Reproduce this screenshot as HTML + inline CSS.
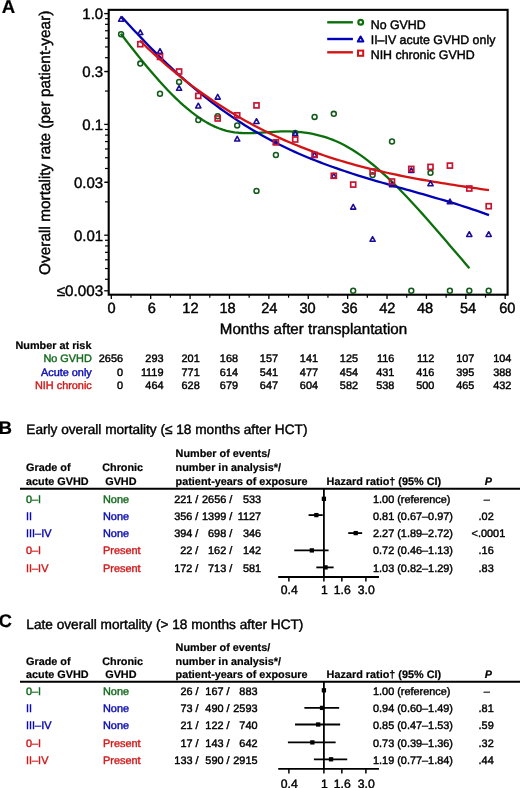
<!DOCTYPE html>
<html><head><meta charset="utf-8"><style>
html,body{margin:0;padding:0;background:#fff;}
body{width:520px;height:788px;overflow:hidden;}
svg{display:block;will-change:transform;font-family:"Liberation Sans",sans-serif;text-rendering:geometricPrecision;-webkit-font-smoothing:antialiased;}
</style></head><body>
<svg width="520" height="788" viewBox="0 0 520 788">
<rect width="520" height="788" fill="#fff"/>
<text x="1.7" y="12.9" font-size="18.6" font-weight="bold" stroke="#000" stroke-width="0.2">A</text>
<rect x="108.7" y="9.85" width="398.90000000000003" height="284.84999999999997" fill="none" stroke="#000" stroke-width="2.1"/>
<line x1="105.0" y1="279.29" x2="108.7" y2="279.29" stroke="#000" stroke-width="1.2"/>
<line x1="105.0" y1="268.55" x2="108.7" y2="268.55" stroke="#000" stroke-width="1.2"/>
<line x1="105.0" y1="259.78" x2="108.7" y2="259.78" stroke="#000" stroke-width="1.2"/>
<line x1="105.0" y1="252.36" x2="108.7" y2="252.36" stroke="#000" stroke-width="1.2"/>
<line x1="105.0" y1="245.94" x2="108.7" y2="245.94" stroke="#000" stroke-width="1.2"/>
<line x1="105.0" y1="240.27" x2="108.7" y2="240.27" stroke="#000" stroke-width="1.2"/>
<line x1="105.0" y1="201.85" x2="108.7" y2="201.85" stroke="#000" stroke-width="1.2"/>
<line x1="105.0" y1="182.33" x2="108.7" y2="182.33" stroke="#000" stroke-width="1.2"/>
<line x1="105.0" y1="168.49" x2="108.7" y2="168.49" stroke="#000" stroke-width="1.2"/>
<line x1="105.0" y1="157.75" x2="108.7" y2="157.75" stroke="#000" stroke-width="1.2"/>
<line x1="105.0" y1="148.98" x2="108.7" y2="148.98" stroke="#000" stroke-width="1.2"/>
<line x1="105.0" y1="141.56" x2="108.7" y2="141.56" stroke="#000" stroke-width="1.2"/>
<line x1="105.0" y1="135.14" x2="108.7" y2="135.14" stroke="#000" stroke-width="1.2"/>
<line x1="105.0" y1="129.47" x2="108.7" y2="129.47" stroke="#000" stroke-width="1.2"/>
<line x1="105.0" y1="91.05" x2="108.7" y2="91.05" stroke="#000" stroke-width="1.2"/>
<line x1="105.0" y1="71.53" x2="108.7" y2="71.53" stroke="#000" stroke-width="1.2"/>
<line x1="105.0" y1="57.69" x2="108.7" y2="57.69" stroke="#000" stroke-width="1.2"/>
<line x1="105.0" y1="46.95" x2="108.7" y2="46.95" stroke="#000" stroke-width="1.2"/>
<line x1="105.0" y1="38.18" x2="108.7" y2="38.18" stroke="#000" stroke-width="1.2"/>
<line x1="105.0" y1="30.76" x2="108.7" y2="30.76" stroke="#000" stroke-width="1.2"/>
<line x1="105.0" y1="24.34" x2="108.7" y2="24.34" stroke="#000" stroke-width="1.2"/>
<line x1="105.0" y1="18.67" x2="108.7" y2="18.67" stroke="#000" stroke-width="1.2"/>
<line x1="104.2" y1="13.6" x2="108.7" y2="13.6" stroke="#000" stroke-width="1.3"/>
<text x="103.2" y="18.9" font-size="15.0" text-anchor="end" stroke="#000" stroke-width="0.42">1.0</text>
<line x1="104.2" y1="71.53" x2="108.7" y2="71.53" stroke="#000" stroke-width="1.3"/>
<text x="103.2" y="76.83" font-size="15.0" text-anchor="end" stroke="#000" stroke-width="0.42">0.3</text>
<line x1="104.2" y1="124.4" x2="108.7" y2="124.4" stroke="#000" stroke-width="1.3"/>
<text x="103.2" y="129.7" font-size="15.0" text-anchor="end" stroke="#000" stroke-width="0.42">0.1</text>
<line x1="104.2" y1="182.33" x2="108.7" y2="182.33" stroke="#000" stroke-width="1.3"/>
<text x="103.2" y="187.63" font-size="15.0" text-anchor="end" stroke="#000" stroke-width="0.42">0.03</text>
<line x1="104.2" y1="235.2" x2="108.7" y2="235.2" stroke="#000" stroke-width="1.3"/>
<text x="103.2" y="240.5" font-size="15.0" text-anchor="end" stroke="#000" stroke-width="0.42">0.01</text>
<line x1="104.2" y1="290.8" x2="108.7" y2="290.8" stroke="#000" stroke-width="1.3"/>
<text x="103.2" y="296.0" font-size="15.0" text-anchor="end" stroke="#000" stroke-width="0.42" textLength="46.5" lengthAdjust="spacingAndGlyphs">≤0.003</text>
<line x1="111.3" y1="294.7" x2="111.3" y2="298.9" stroke="#000" stroke-width="1.3"/>
<text x="111.45" y="313.4" font-size="14.6" text-anchor="middle" stroke="#000" stroke-width="0.42">0</text>
<line x1="131.0" y1="294.7" x2="131.0" y2="297.7" stroke="#000" stroke-width="1.2"/>
<line x1="150.69" y1="294.7" x2="150.69" y2="298.9" stroke="#000" stroke-width="1.3"/>
<text x="151.74" y="313.4" font-size="14.6" text-anchor="middle" stroke="#000" stroke-width="0.42">6</text>
<line x1="170.38" y1="294.7" x2="170.38" y2="297.7" stroke="#000" stroke-width="1.2"/>
<line x1="190.08" y1="294.7" x2="190.08" y2="298.9" stroke="#000" stroke-width="1.3"/>
<text x="190.43" y="313.4" font-size="14.6" text-anchor="middle" stroke="#000" stroke-width="0.42">12</text>
<line x1="209.78" y1="294.7" x2="209.78" y2="297.7" stroke="#000" stroke-width="1.2"/>
<line x1="229.47" y1="294.7" x2="229.47" y2="298.9" stroke="#000" stroke-width="1.3"/>
<text x="227.52" y="313.4" font-size="14.6" text-anchor="middle" stroke="#000" stroke-width="0.42">18</text>
<line x1="249.17" y1="294.7" x2="249.17" y2="297.7" stroke="#000" stroke-width="1.2"/>
<line x1="268.86" y1="294.7" x2="268.86" y2="298.9" stroke="#000" stroke-width="1.3"/>
<text x="269.31" y="313.4" font-size="14.6" text-anchor="middle" stroke="#000" stroke-width="0.42">24</text>
<line x1="288.56" y1="294.7" x2="288.56" y2="297.7" stroke="#000" stroke-width="1.2"/>
<line x1="308.25" y1="294.7" x2="308.25" y2="298.9" stroke="#000" stroke-width="1.3"/>
<text x="307.6" y="313.4" font-size="14.6" text-anchor="middle" stroke="#000" stroke-width="0.42">30</text>
<line x1="327.94" y1="294.7" x2="327.94" y2="297.7" stroke="#000" stroke-width="1.2"/>
<line x1="347.64" y1="294.7" x2="347.64" y2="298.9" stroke="#000" stroke-width="1.3"/>
<text x="349.59" y="313.4" font-size="14.6" text-anchor="middle" stroke="#000" stroke-width="0.42">36</text>
<line x1="367.34" y1="294.7" x2="367.34" y2="297.7" stroke="#000" stroke-width="1.2"/>
<line x1="387.03" y1="294.7" x2="387.03" y2="298.9" stroke="#000" stroke-width="1.3"/>
<text x="387.38" y="313.4" font-size="14.6" text-anchor="middle" stroke="#000" stroke-width="0.42">42</text>
<line x1="406.73" y1="294.7" x2="406.73" y2="297.7" stroke="#000" stroke-width="1.2"/>
<line x1="426.42" y1="294.7" x2="426.42" y2="298.9" stroke="#000" stroke-width="1.3"/>
<text x="425.07" y="313.4" font-size="14.6" text-anchor="middle" stroke="#000" stroke-width="0.42">48</text>
<line x1="446.12" y1="294.7" x2="446.12" y2="297.7" stroke="#000" stroke-width="1.2"/>
<line x1="465.81" y1="294.7" x2="465.81" y2="298.9" stroke="#000" stroke-width="1.3"/>
<text x="468.01" y="313.4" font-size="14.6" text-anchor="middle" stroke="#000" stroke-width="0.42">54</text>
<line x1="485.51" y1="294.7" x2="485.51" y2="297.7" stroke="#000" stroke-width="1.2"/>
<line x1="505.2" y1="294.7" x2="505.2" y2="298.9" stroke="#000" stroke-width="1.3"/>
<text x="507.3" y="313.4" font-size="14.6" text-anchor="middle" stroke="#000" stroke-width="0.42">60</text>
<text x="219.8" y="333.9" font-size="15.12" stroke="#000" stroke-width="0.42">Months after transplantation</text>
<text transform="translate(50.2,274.9) rotate(-90)" font-size="15.4" stroke="#000" stroke-width="0.42">Overall mortality rate (per patient-year)</text>
<path d="M120.80,33.71 L124.72,38.79 L128.63,43.83 L132.55,48.83 L136.47,53.77 L140.38,58.65 L144.30,63.45 L148.22,68.16 L152.13,72.79 L156.05,77.31 L159.97,81.72 L163.89,86.01 L167.80,90.18 L171.72,94.20 L175.64,98.07 L179.55,101.79 L183.47,105.34 L187.39,108.71 L191.30,111.90 L195.22,114.90 L199.14,117.69 L203.05,120.27 L206.97,122.63 L210.89,124.75 L214.80,126.64 L218.72,128.28 L222.64,129.66 L226.56,130.77 L230.47,131.64 L234.39,132.28 L238.31,132.73 L242.22,133.00 L246.14,133.13 L250.06,133.12 L253.97,133.02 L257.89,132.84 L261.81,132.60 L265.72,132.34 L269.64,132.07 L273.56,131.82 L277.47,131.61 L281.39,131.47 L285.31,131.42 L289.22,131.46 L293.14,131.59 L297.06,131.83 L300.98,132.18 L304.89,132.65 L308.81,133.23 L312.73,133.95 L316.64,134.80 L320.56,135.79 L324.48,136.92 L328.39,138.21 L332.31,139.66 L336.23,141.27 L340.14,143.05 L344.06,145.01 L347.98,147.15 L351.89,149.46 L355.81,151.95 L359.73,154.60 L363.64,157.41 L367.56,160.38 L371.48,163.48 L375.40,166.72 L379.31,170.09 L383.23,173.59 L387.15,177.20 L391.06,180.93 L394.98,184.75 L398.90,188.68 L402.81,192.69 L406.73,196.79 L410.65,200.96 L414.56,205.20 L418.48,209.51 L422.40,213.87 L426.31,218.28 L430.23,222.74 L434.15,227.23 L438.07,231.75 L441.98,236.29 L445.90,240.85 L449.82,245.41 L453.73,249.98 L457.65,254.55 L461.57,259.10 L465.48,263.63 L469.40,268.14" fill="none" stroke="#0b700b" stroke-width="2.3" stroke-linejoin="round"/>
<path d="M121.30,16.42 L125.43,20.97 L129.56,25.47 L133.69,29.92 L137.83,34.32 L141.96,38.66 L146.09,42.95 L150.22,47.18 L154.35,51.35 L158.48,55.45 L162.61,59.50 L166.75,63.47 L170.88,67.39 L175.01,71.23 L179.14,75.01 L183.27,78.72 L187.40,82.35 L191.53,85.91 L195.67,89.40 L199.80,92.81 L203.93,96.14 L208.06,99.40 L212.19,102.58 L216.32,105.68 L220.46,108.72 L224.59,111.67 L228.72,114.56 L232.85,117.38 L236.98,120.12 L241.11,122.80 L245.24,125.41 L249.38,127.96 L253.51,130.43 L257.64,132.85 L261.77,135.20 L265.90,137.48 L270.03,139.71 L274.16,141.88 L278.30,143.98 L282.43,146.03 L286.56,148.02 L290.69,149.96 L294.82,151.84 L298.95,153.68 L303.08,155.46 L307.22,157.20 L311.35,158.89 L315.48,160.54 L319.61,162.15 L323.74,163.71 L327.87,165.24 L332.00,166.74 L336.14,168.20 L340.27,169.62 L344.40,171.02 L348.53,172.39 L352.66,173.73 L356.79,175.04 L360.92,176.33 L365.06,177.61 L369.19,178.86 L373.32,180.09 L377.45,181.31 L381.58,182.52 L385.71,183.71 L389.84,184.89 L393.98,186.07 L398.11,187.24 L402.24,188.40 L406.37,189.56 L410.50,190.72 L414.63,191.89 L418.77,193.05 L422.90,194.22 L427.03,195.40 L431.16,196.58 L435.29,197.77 L439.42,198.98 L443.55,200.20 L447.69,201.44 L451.82,202.69 L455.95,203.97 L460.08,205.26 L464.21,206.58 L468.34,207.93 L472.47,209.30 L476.61,210.70 L480.74,212.13 L484.87,213.59 L489.00,215.09" fill="none" stroke="#0000b8" stroke-width="2.3" stroke-linejoin="round"/>
<path d="M139.80,40.46 L143.72,44.29 L147.65,48.05 L151.57,51.74 L155.49,55.35 L159.42,58.90 L163.34,62.38 L167.27,65.79 L171.19,69.13 L175.11,72.41 L179.04,75.62 L182.96,78.76 L186.88,81.84 L190.81,84.86 L194.73,87.82 L198.65,90.71 L202.58,93.54 L206.50,96.31 L210.42,99.02 L214.35,101.68 L218.27,104.27 L222.20,106.81 L226.12,109.30 L230.04,111.72 L233.97,114.10 L237.89,116.42 L241.81,118.68 L245.74,120.90 L249.66,123.06 L253.58,125.17 L257.51,127.23 L261.43,129.25 L265.36,131.21 L269.28,133.13 L273.20,135.00 L277.13,136.83 L281.05,138.61 L284.97,140.35 L288.90,142.05 L292.82,143.70 L296.74,145.31 L300.67,146.88 L304.59,148.41 L308.51,149.90 L312.44,151.35 L316.36,152.77 L320.29,154.15 L324.21,155.49 L328.13,156.80 L332.06,158.07 L335.98,159.31 L339.90,160.52 L343.83,161.69 L347.75,162.83 L351.67,163.95 L355.60,165.03 L359.52,166.09 L363.44,167.12 L367.37,168.12 L371.29,169.09 L375.22,170.04 L379.14,170.97 L383.06,171.87 L386.99,172.75 L390.91,173.60 L394.83,174.44 L398.76,175.25 L402.68,176.05 L406.60,176.82 L410.53,177.58 L414.45,178.32 L418.38,179.05 L422.30,179.75 L426.22,180.45 L430.15,181.13 L434.07,181.79 L437.99,182.45 L441.92,183.09 L445.84,183.72 L449.76,184.34 L453.69,184.96 L457.61,185.56 L461.53,186.16 L465.46,186.75 L469.38,187.33 L473.31,187.91 L477.23,188.48 L481.15,189.06 L485.08,189.62 L489.00,190.19" fill="none" stroke="#d41414" stroke-width="2.3" stroke-linejoin="round"/>
<circle cx="121.1" cy="34.2" r="2.45" fill="none" stroke="#125a1a" stroke-width="1.55"/>
<circle cx="140.3" cy="63.6" r="2.45" fill="none" stroke="#125a1a" stroke-width="1.55"/>
<circle cx="160.0" cy="93.7" r="2.45" fill="none" stroke="#125a1a" stroke-width="1.55"/>
<circle cx="179.1" cy="81.9" r="2.45" fill="none" stroke="#125a1a" stroke-width="1.55"/>
<circle cx="198.3" cy="120" r="2.45" fill="none" stroke="#125a1a" stroke-width="1.55"/>
<circle cx="217.7" cy="116.2" r="2.45" fill="none" stroke="#125a1a" stroke-width="1.55"/>
<circle cx="237.2" cy="125.4" r="2.45" fill="none" stroke="#125a1a" stroke-width="1.55"/>
<circle cx="256.5" cy="190.9" r="2.45" fill="none" stroke="#125a1a" stroke-width="1.55"/>
<circle cx="275.9" cy="155" r="2.45" fill="none" stroke="#125a1a" stroke-width="1.55"/>
<circle cx="295.2" cy="133.0" r="2.45" fill="none" stroke="#125a1a" stroke-width="1.55"/>
<circle cx="314.6" cy="116.9" r="2.45" fill="none" stroke="#125a1a" stroke-width="1.55"/>
<circle cx="333.8" cy="113.8" r="2.45" fill="none" stroke="#125a1a" stroke-width="1.55"/>
<circle cx="353.2" cy="290.8" r="2.45" fill="none" stroke="#125a1a" stroke-width="1.55"/>
<circle cx="372.6" cy="175.1" r="2.45" fill="none" stroke="#125a1a" stroke-width="1.55"/>
<circle cx="392.0" cy="141.5" r="2.45" fill="none" stroke="#125a1a" stroke-width="1.55"/>
<circle cx="411.3" cy="290.8" r="2.45" fill="none" stroke="#125a1a" stroke-width="1.55"/>
<circle cx="430.5" cy="172.8" r="2.45" fill="none" stroke="#125a1a" stroke-width="1.55"/>
<circle cx="449.9" cy="290.8" r="2.45" fill="none" stroke="#125a1a" stroke-width="1.55"/>
<circle cx="469.3" cy="290.8" r="2.45" fill="none" stroke="#125a1a" stroke-width="1.55"/>
<circle cx="488.7" cy="290.8" r="2.45" fill="none" stroke="#125a1a" stroke-width="1.55"/>
<path d="M121.10,16.63 L123.70,21.31 L118.50,21.31 Z" fill="none" stroke="#1a0c96" stroke-width="1.55" stroke-linejoin="round"/>
<path d="M140.30,29.83 L142.90,34.51 L137.70,34.51 Z" fill="none" stroke="#1a0c96" stroke-width="1.55" stroke-linejoin="round"/>
<path d="M160.00,48.63 L162.60,53.31 L157.40,53.31 Z" fill="none" stroke="#1a0c96" stroke-width="1.55" stroke-linejoin="round"/>
<path d="M179.10,85.63 L181.70,90.31 L176.50,90.31 Z" fill="none" stroke="#1a0c96" stroke-width="1.55" stroke-linejoin="round"/>
<path d="M198.30,103.23 L200.90,107.91 L195.70,107.91 Z" fill="none" stroke="#1a0c96" stroke-width="1.55" stroke-linejoin="round"/>
<path d="M217.70,94.43 L220.30,99.11 L215.10,99.11 Z" fill="none" stroke="#1a0c96" stroke-width="1.55" stroke-linejoin="round"/>
<path d="M237.20,136.33 L239.80,141.01 L234.60,141.01 Z" fill="none" stroke="#1a0c96" stroke-width="1.55" stroke-linejoin="round"/>
<path d="M256.50,118.73 L259.10,123.41 L253.90,123.41 Z" fill="none" stroke="#1a0c96" stroke-width="1.55" stroke-linejoin="round"/>
<path d="M275.90,139.83 L278.50,144.51 L273.30,144.51 Z" fill="none" stroke="#1a0c96" stroke-width="1.55" stroke-linejoin="round"/>
<path d="M295.20,131.13 L297.80,135.81 L292.60,135.81 Z" fill="none" stroke="#1a0c96" stroke-width="1.55" stroke-linejoin="round"/>
<path d="M314.60,152.43 L317.20,157.11 L312.00,157.11 Z" fill="none" stroke="#1a0c96" stroke-width="1.55" stroke-linejoin="round"/>
<path d="M333.80,173.33 L336.40,178.01 L331.20,178.01 Z" fill="none" stroke="#1a0c96" stroke-width="1.55" stroke-linejoin="round"/>
<path d="M353.20,204.43 L355.80,209.11 L350.60,209.11 Z" fill="none" stroke="#1a0c96" stroke-width="1.55" stroke-linejoin="round"/>
<path d="M372.60,236.63 L375.20,241.31 L370.00,241.31 Z" fill="none" stroke="#1a0c96" stroke-width="1.55" stroke-linejoin="round"/>
<path d="M392.00,182.13 L394.60,186.81 L389.40,186.81 Z" fill="none" stroke="#1a0c96" stroke-width="1.55" stroke-linejoin="round"/>
<path d="M411.30,167.83 L413.90,172.51 L408.70,172.51 Z" fill="none" stroke="#1a0c96" stroke-width="1.55" stroke-linejoin="round"/>
<path d="M430.50,181.03 L433.10,185.71 L427.90,185.71 Z" fill="none" stroke="#1a0c96" stroke-width="1.55" stroke-linejoin="round"/>
<path d="M449.90,199.03 L452.50,203.71 L447.30,203.71 Z" fill="none" stroke="#1a0c96" stroke-width="1.55" stroke-linejoin="round"/>
<path d="M469.30,231.73 L471.90,236.41 L466.70,236.41 Z" fill="none" stroke="#1a0c96" stroke-width="1.55" stroke-linejoin="round"/>
<path d="M488.70,231.73 L491.30,236.41 L486.10,236.41 Z" fill="none" stroke="#1a0c96" stroke-width="1.55" stroke-linejoin="round"/>
<rect x="137.80" y="41.70" width="5.00" height="5.00" fill="none" stroke="#c81432" stroke-width="1.7"/>
<rect x="157.50" y="54.40" width="5.00" height="5.00" fill="none" stroke="#c81432" stroke-width="1.7"/>
<rect x="176.60" y="69.00" width="5.00" height="5.00" fill="none" stroke="#c81432" stroke-width="1.7"/>
<rect x="195.80" y="93.40" width="5.00" height="5.00" fill="none" stroke="#c81432" stroke-width="1.7"/>
<rect x="215.20" y="116.00" width="5.00" height="5.00" fill="none" stroke="#c81432" stroke-width="1.7"/>
<rect x="234.70" y="112.80" width="5.00" height="5.00" fill="none" stroke="#c81432" stroke-width="1.7"/>
<rect x="254.00" y="102.90" width="5.00" height="5.00" fill="none" stroke="#c81432" stroke-width="1.7"/>
<rect x="273.40" y="139.80" width="5.00" height="5.00" fill="none" stroke="#c81432" stroke-width="1.7"/>
<rect x="292.70" y="137.00" width="5.00" height="5.00" fill="none" stroke="#c81432" stroke-width="1.7"/>
<rect x="312.10" y="152.40" width="5.00" height="5.00" fill="none" stroke="#c81432" stroke-width="1.7"/>
<rect x="331.30" y="173.30" width="5.00" height="5.00" fill="none" stroke="#c81432" stroke-width="1.7"/>
<rect x="350.70" y="182.10" width="5.00" height="5.00" fill="none" stroke="#c81432" stroke-width="1.7"/>
<rect x="370.10" y="169.00" width="5.00" height="5.00" fill="none" stroke="#c81432" stroke-width="1.7"/>
<rect x="389.50" y="179.00" width="5.00" height="5.00" fill="none" stroke="#c81432" stroke-width="1.7"/>
<rect x="408.80" y="166.40" width="5.00" height="5.00" fill="none" stroke="#c81432" stroke-width="1.7"/>
<rect x="428.00" y="164.40" width="5.00" height="5.00" fill="none" stroke="#c81432" stroke-width="1.7"/>
<rect x="447.40" y="163.10" width="5.00" height="5.00" fill="none" stroke="#c81432" stroke-width="1.7"/>
<rect x="466.80" y="186.00" width="5.00" height="5.00" fill="none" stroke="#c81432" stroke-width="1.7"/>
<rect x="486.20" y="203.70" width="5.00" height="5.00" fill="none" stroke="#c81432" stroke-width="1.7"/>
<line x1="327.2" y1="22.3" x2="352.9" y2="22.3" stroke="#0b700b" stroke-width="2.4"/>
<circle cx="360.7" cy="22.2" r="2.4" fill="none" stroke="#0b700b" stroke-width="2.2"/>
<line x1="327.2" y1="39.0" x2="352.9" y2="39.0" stroke="#0000b8" stroke-width="2.4"/>
<path d="M360.60,36.44 L363.40,41.48 L357.80,41.48 Z" fill="none" stroke="#0000b8" stroke-width="2.0" stroke-linejoin="round"/>
<line x1="327.2" y1="52.3" x2="352.9" y2="52.3" stroke="#d41414" stroke-width="2.4"/>
<rect x="358.00" y="50.60" width="5.20" height="5.20" fill="none" stroke="#d41414" stroke-width="2.0"/>
<text x="370.7" y="28.8" font-size="12.4" stroke="#000" stroke-width="0.42">No GVHD</text>
<text x="370.7" y="43.6" font-size="12.4" stroke="#000" stroke-width="0.42">II–IV acute GVHD only</text>
<text x="370.7" y="58.6" font-size="12.4" stroke="#000" stroke-width="0.42">NIH chronic GVHD</text>
<text x="15.5" y="348.8" font-size="10.85" font-weight="bold" stroke="#000" stroke-width="0.2">Number at risk</text>
<text x="91.8" y="362.4" font-size="10.9" text-anchor="end" fill="#146a1e" stroke="#146a1e" stroke-width="0.42">No GVHD</text>
<text x="91.8" y="375.6" font-size="10.9" text-anchor="end" fill="#0a0ab4" stroke="#0a0ab4" stroke-width="0.42">Acute only</text>
<text x="91.8" y="388.9" font-size="10.9" text-anchor="end" fill="#d21a1a" stroke="#d21a1a" stroke-width="0.42">NIH chronic</text>
<text x="123.0" y="362.4" font-size="10.9" text-anchor="end" stroke="#000" stroke-width="0.42">2656</text>
<text x="163.5" y="362.4" font-size="10.9" text-anchor="end" stroke="#000" stroke-width="0.42">293</text>
<text x="199.7" y="362.4" font-size="10.9" text-anchor="end" stroke="#000" stroke-width="0.42">201</text>
<text x="238.0" y="362.4" font-size="10.9" text-anchor="end" stroke="#000" stroke-width="0.42">168</text>
<text x="278.0" y="362.4" font-size="10.9" text-anchor="end" stroke="#000" stroke-width="0.42">157</text>
<text x="318.0" y="362.4" font-size="10.9" text-anchor="end" stroke="#000" stroke-width="0.42">141</text>
<text x="358.0" y="362.4" font-size="10.9" text-anchor="end" stroke="#000" stroke-width="0.42">125</text>
<text x="394.3" y="362.4" font-size="10.9" text-anchor="end" stroke="#000" stroke-width="0.42">116</text>
<text x="434.3" y="362.4" font-size="10.9" text-anchor="end" stroke="#000" stroke-width="0.42">112</text>
<text x="474.3" y="362.4" font-size="10.9" text-anchor="end" stroke="#000" stroke-width="0.42">107</text>
<text x="511.3" y="362.4" font-size="10.9" text-anchor="end" stroke="#000" stroke-width="0.42">104</text>
<text x="123.0" y="375.6" font-size="10.9" text-anchor="end" stroke="#000" stroke-width="0.42">0</text>
<text x="163.5" y="375.6" font-size="10.9" text-anchor="end" stroke="#000" stroke-width="0.42">1119</text>
<text x="199.7" y="375.6" font-size="10.9" text-anchor="end" stroke="#000" stroke-width="0.42">771</text>
<text x="238.0" y="375.6" font-size="10.9" text-anchor="end" stroke="#000" stroke-width="0.42">614</text>
<text x="278.0" y="375.6" font-size="10.9" text-anchor="end" stroke="#000" stroke-width="0.42">541</text>
<text x="318.0" y="375.6" font-size="10.9" text-anchor="end" stroke="#000" stroke-width="0.42">477</text>
<text x="358.0" y="375.6" font-size="10.9" text-anchor="end" stroke="#000" stroke-width="0.42">454</text>
<text x="394.3" y="375.6" font-size="10.9" text-anchor="end" stroke="#000" stroke-width="0.42">431</text>
<text x="434.3" y="375.6" font-size="10.9" text-anchor="end" stroke="#000" stroke-width="0.42">416</text>
<text x="474.3" y="375.6" font-size="10.9" text-anchor="end" stroke="#000" stroke-width="0.42">395</text>
<text x="511.3" y="375.6" font-size="10.9" text-anchor="end" stroke="#000" stroke-width="0.42">388</text>
<text x="123.0" y="388.9" font-size="10.9" text-anchor="end" stroke="#000" stroke-width="0.42">0</text>
<text x="163.5" y="388.9" font-size="10.9" text-anchor="end" stroke="#000" stroke-width="0.42">464</text>
<text x="199.7" y="388.9" font-size="10.9" text-anchor="end" stroke="#000" stroke-width="0.42">628</text>
<text x="238.0" y="388.9" font-size="10.9" text-anchor="end" stroke="#000" stroke-width="0.42">679</text>
<text x="278.0" y="388.9" font-size="10.9" text-anchor="end" stroke="#000" stroke-width="0.42">647</text>
<text x="318.0" y="388.9" font-size="10.9" text-anchor="end" stroke="#000" stroke-width="0.42">604</text>
<text x="358.0" y="388.9" font-size="10.9" text-anchor="end" stroke="#000" stroke-width="0.42">582</text>
<text x="394.3" y="388.9" font-size="10.9" text-anchor="end" stroke="#000" stroke-width="0.42">538</text>
<text x="434.3" y="388.9" font-size="10.9" text-anchor="end" stroke="#000" stroke-width="0.42">500</text>
<text x="474.3" y="388.9" font-size="10.9" text-anchor="end" stroke="#000" stroke-width="0.42">465</text>
<text x="511.3" y="388.9" font-size="10.9" text-anchor="end" stroke="#000" stroke-width="0.42">432</text>
<text x="-1.25" y="433.9" font-size="18.3" font-weight="bold" stroke="#000" stroke-width="0.2">B</text>
<text x="26.3" y="434.0" font-size="13.65" stroke="#000" stroke-width="0.42">Early overall mortality (≤ 18 months after HCT)</text>
<text x="26.0" y="470.9" font-size="10.85" font-weight="bold" stroke="#000" stroke-width="0.2">Grade of</text>
<text x="26.0" y="484.9" font-size="10.85" font-weight="bold" stroke="#000" stroke-width="0.2">acute GVHD</text>
<text x="102.2" y="470.9" font-size="10.85" font-weight="bold" stroke="#000" stroke-width="0.2">Chronic</text>
<text x="102.2" y="484.9" font-size="10.85" font-weight="bold" stroke="#000" stroke-width="0.2" xml:space="preserve"> GVHD</text>
<text x="175.6" y="456.7" font-size="10.85" font-weight="bold" stroke="#000" stroke-width="0.2">Number of events/</text>
<text x="175.6" y="470.9" font-size="10.85" font-weight="bold" stroke="#000" stroke-width="0.2">number in analysis*/</text>
<text x="175.6" y="484.9" font-size="10.85" font-weight="bold" stroke="#000" stroke-width="0.2">patient-years of exposure</text>
<text x="326.6" y="484.9" font-size="10.85" font-weight="bold" stroke="#000" stroke-width="0.2">Hazard ratio† (95% CI)</text>
<text x="488.3" y="484.9" font-size="10.85" text-anchor="middle" font-weight="bold" font-style="italic" stroke="#000" stroke-width="0.2">P</text>
<line x1="20.0" y1="488.8" x2="520" y2="488.8" stroke="#000" stroke-width="2.0"/>
<text x="26.0" y="502.6" font-size="10.9" fill="#146a1e" stroke="#146a1e" stroke-width="0.42">0–I</text>
<text x="103.0" y="502.6" font-size="10.9" fill="#146a1e" stroke="#146a1e" stroke-width="0.42">None</text>
<text x="198.4" y="502.6" font-size="10.9" text-anchor="end" stroke="#000" stroke-width="0.42" xml:space="preserve">221 /</text>
<text x="232.3" y="502.6" font-size="10.9" text-anchor="end" stroke="#000" stroke-width="0.42">2656 /</text>
<text x="261.1" y="502.6" font-size="10.9" text-anchor="end" stroke="#000" stroke-width="0.42">533</text>
<text x="373.0" y="502.6" font-size="10.9" stroke="#000" stroke-width="0.42">1.00 (reference)</text>
<text x="486.8" y="502.6" font-size="10.9" text-anchor="middle" stroke="#000" stroke-width="0.42">–</text>
<text x="26.0" y="519.8" font-size="10.9" fill="#0a0ab4" stroke="#0a0ab4" stroke-width="0.42">II</text>
<text x="103.0" y="519.8" font-size="10.9" fill="#0a0ab4" stroke="#0a0ab4" stroke-width="0.42">None</text>
<text x="198.4" y="519.8" font-size="10.9" text-anchor="end" stroke="#000" stroke-width="0.42" xml:space="preserve">356 /</text>
<text x="232.3" y="519.8" font-size="10.9" text-anchor="end" stroke="#000" stroke-width="0.42">1399 /</text>
<text x="261.1" y="519.8" font-size="10.9" text-anchor="end" stroke="#000" stroke-width="0.42">1127</text>
<text x="373.0" y="519.8" font-size="10.9" stroke="#000" stroke-width="0.42">0.81 (0.67–0.97)</text>
<text x="478.6" y="519.8" font-size="10.9" stroke="#000" stroke-width="0.42">.02</text>
<text x="26.0" y="537.1" font-size="10.9" fill="#0a0ab4" stroke="#0a0ab4" stroke-width="0.42">III–IV</text>
<text x="103.0" y="537.1" font-size="10.9" fill="#0a0ab4" stroke="#0a0ab4" stroke-width="0.42">None</text>
<text x="198.4" y="537.1" font-size="10.9" text-anchor="end" stroke="#000" stroke-width="0.42" xml:space="preserve">394 /</text>
<text x="232.3" y="537.1" font-size="10.9" text-anchor="end" stroke="#000" stroke-width="0.42">698 /</text>
<text x="261.1" y="537.1" font-size="10.9" text-anchor="end" stroke="#000" stroke-width="0.42">346</text>
<text x="373.0" y="537.1" font-size="10.9" stroke="#000" stroke-width="0.42">2.27 (1.89–2.72)</text>
<text x="471.6" y="537.1" font-size="10.9" stroke="#000" stroke-width="0.42">&lt;.0001</text>
<text x="26.0" y="554.0" font-size="10.9" fill="#d21a1a" stroke="#d21a1a" stroke-width="0.42">0–I</text>
<text x="103.0" y="554.0" font-size="10.9" fill="#d21a1a" stroke="#d21a1a" stroke-width="0.42">Present</text>
<text x="198.4" y="554.0" font-size="10.9" text-anchor="end" stroke="#000" stroke-width="0.42" xml:space="preserve">22 /</text>
<text x="232.3" y="554.0" font-size="10.9" text-anchor="end" stroke="#000" stroke-width="0.42">162 /</text>
<text x="261.1" y="554.0" font-size="10.9" text-anchor="end" stroke="#000" stroke-width="0.42">142</text>
<text x="373.0" y="554.0" font-size="10.9" stroke="#000" stroke-width="0.42">0.72 (0.46–1.13)</text>
<text x="478.6" y="554.0" font-size="10.9" stroke="#000" stroke-width="0.42">.16</text>
<text x="26.0" y="571.5" font-size="10.9" fill="#d21a1a" stroke="#d21a1a" stroke-width="0.42">II–IV</text>
<text x="103.0" y="571.5" font-size="10.9" fill="#d21a1a" stroke="#d21a1a" stroke-width="0.42">Present</text>
<text x="198.4" y="571.5" font-size="10.9" text-anchor="end" stroke="#000" stroke-width="0.42" xml:space="preserve">172 /</text>
<text x="232.3" y="571.5" font-size="10.9" text-anchor="end" stroke="#000" stroke-width="0.42">713 /</text>
<text x="261.1" y="571.5" font-size="10.9" text-anchor="end" stroke="#000" stroke-width="0.42">581</text>
<text x="373.0" y="571.5" font-size="10.9" stroke="#000" stroke-width="0.42">1.03 (0.82–1.29)</text>
<text x="478.6" y="571.5" font-size="10.9" stroke="#000" stroke-width="0.42">.83</text>
<line x1="323.9" y1="488.8" x2="323.9" y2="577.0" stroke="#000" stroke-width="1.8"/>
<line x1="278.2" y1="577.0" x2="379.0" y2="577.0" stroke="#000" stroke-width="1.8"/>
<line x1="288.88" y1="577.0" x2="288.88" y2="581.6" stroke="#000" stroke-width="1.5"/>
<text x="289.28" y="594.4" font-size="12.2" text-anchor="middle" stroke="#000" stroke-width="0.42">0.4</text>
<line x1="323.9" y1="577.0" x2="323.9" y2="581.6" stroke="#000" stroke-width="1.5"/>
<text x="324.29999999999995" y="594.4" font-size="12.2" text-anchor="middle" stroke="#000" stroke-width="0.42">1</text>
<line x1="341.86" y1="577.0" x2="341.86" y2="581.6" stroke="#000" stroke-width="1.5"/>
<text x="342.26" y="594.4" font-size="12.2" text-anchor="middle" stroke="#000" stroke-width="0.42">1.6</text>
<line x1="365.89" y1="577.0" x2="365.89" y2="581.6" stroke="#000" stroke-width="1.5"/>
<text x="366.28999999999996" y="594.4" font-size="12.2" text-anchor="middle" stroke="#000" stroke-width="0.42">3.0</text>
<rect x="321.75" y="496.65" width="4.3" height="4.3" fill="#000"/>
<line x1="308.59" y1="515.1" x2="322.74" y2="515.1" stroke="#000" stroke-width="1.8"/>
<rect x="314.20" y="512.95" width="4.3" height="4.3" fill="#000"/>
<line x1="348.23" y1="533.1" x2="362.14" y2="533.1" stroke="#000" stroke-width="1.8"/>
<rect x="353.58" y="530.95" width="4.3" height="4.3" fill="#000"/>
<line x1="294.22" y1="550.4" x2="328.57" y2="550.4" stroke="#000" stroke-width="1.8"/>
<rect x="309.70" y="548.25" width="4.3" height="4.3" fill="#000"/>
<line x1="316.32" y1="567.4" x2="333.63" y2="567.4" stroke="#000" stroke-width="1.8"/>
<rect x="323.38" y="565.25" width="4.3" height="4.3" fill="#000"/>
<text x="-1.25" y="627.4" font-size="18.3" font-weight="bold" stroke="#000" stroke-width="0.2">C</text>
<text x="26.3" y="629.4" font-size="13.65" stroke="#000" stroke-width="0.42">Late overall mortality (&gt; 18 months after HCT)</text>
<text x="26.0" y="664.8" font-size="10.85" font-weight="bold" stroke="#000" stroke-width="0.2">Grade of</text>
<text x="26.0" y="678.2" font-size="10.85" font-weight="bold" stroke="#000" stroke-width="0.2">acute GVHD</text>
<text x="102.2" y="664.8" font-size="10.85" font-weight="bold" stroke="#000" stroke-width="0.2">Chronic</text>
<text x="102.2" y="678.2" font-size="10.85" font-weight="bold" stroke="#000" stroke-width="0.2" xml:space="preserve"> GVHD</text>
<text x="175.6" y="651.0" font-size="10.85" font-weight="bold" stroke="#000" stroke-width="0.2">Number of events/</text>
<text x="175.6" y="664.8" font-size="10.85" font-weight="bold" stroke="#000" stroke-width="0.2">number in analysis*/</text>
<text x="175.6" y="678.2" font-size="10.85" font-weight="bold" stroke="#000" stroke-width="0.2">patient-years of exposure</text>
<text x="326.6" y="678.2" font-size="10.85" font-weight="bold" stroke="#000" stroke-width="0.2">Hazard ratio† (95% CI)</text>
<text x="488.3" y="678.2" font-size="10.85" text-anchor="middle" font-weight="bold" font-style="italic" stroke="#000" stroke-width="0.2">P</text>
<line x1="20.0" y1="681.8" x2="520" y2="681.8" stroke="#000" stroke-width="2.0"/>
<text x="26.0" y="694.8" font-size="10.9" fill="#146a1e" stroke="#146a1e" stroke-width="0.42">0–I</text>
<text x="103.0" y="694.8" font-size="10.9" fill="#146a1e" stroke="#146a1e" stroke-width="0.42">None</text>
<text x="198.6" y="694.8" font-size="10.9" text-anchor="end" stroke="#000" stroke-width="0.42" xml:space="preserve">26 /</text>
<text x="229.6" y="694.8" font-size="10.9" text-anchor="end" stroke="#000" stroke-width="0.42">167 /</text>
<text x="257.5" y="694.8" font-size="10.9" text-anchor="end" stroke="#000" stroke-width="0.42">883</text>
<text x="373.0" y="694.8" font-size="10.9" stroke="#000" stroke-width="0.42">1.00 (reference)</text>
<text x="486.8" y="694.8" font-size="10.9" text-anchor="middle" stroke="#000" stroke-width="0.42">–</text>
<text x="26.0" y="712.1" font-size="10.9" fill="#0a0ab4" stroke="#0a0ab4" stroke-width="0.42">II</text>
<text x="103.0" y="712.1" font-size="10.9" fill="#0a0ab4" stroke="#0a0ab4" stroke-width="0.42">None</text>
<text x="198.6" y="712.1" font-size="10.9" text-anchor="end" stroke="#000" stroke-width="0.42" xml:space="preserve">73 /</text>
<text x="229.6" y="712.1" font-size="10.9" text-anchor="end" stroke="#000" stroke-width="0.42">490 /</text>
<text x="257.5" y="712.1" font-size="10.9" text-anchor="end" stroke="#000" stroke-width="0.42">2593</text>
<text x="373.0" y="712.1" font-size="10.9" stroke="#000" stroke-width="0.42">0.94 (0.60–1.49)</text>
<text x="478.6" y="712.1" font-size="10.9" stroke="#000" stroke-width="0.42">.81</text>
<text x="26.0" y="729.4" font-size="10.9" fill="#0a0ab4" stroke="#0a0ab4" stroke-width="0.42">III–IV</text>
<text x="103.0" y="729.4" font-size="10.9" fill="#0a0ab4" stroke="#0a0ab4" stroke-width="0.42">None</text>
<text x="198.6" y="729.4" font-size="10.9" text-anchor="end" stroke="#000" stroke-width="0.42" xml:space="preserve">21 /</text>
<text x="229.6" y="729.4" font-size="10.9" text-anchor="end" stroke="#000" stroke-width="0.42">122 /</text>
<text x="257.5" y="729.4" font-size="10.9" text-anchor="end" stroke="#000" stroke-width="0.42">740</text>
<text x="373.0" y="729.4" font-size="10.9" stroke="#000" stroke-width="0.42">0.85 (0.47–1.53)</text>
<text x="478.6" y="729.4" font-size="10.9" stroke="#000" stroke-width="0.42">.59</text>
<text x="26.0" y="746.7" font-size="10.9" fill="#d21a1a" stroke="#d21a1a" stroke-width="0.42">0–I</text>
<text x="103.0" y="746.7" font-size="10.9" fill="#d21a1a" stroke="#d21a1a" stroke-width="0.42">Present</text>
<text x="198.6" y="746.7" font-size="10.9" text-anchor="end" stroke="#000" stroke-width="0.42" xml:space="preserve">17 /</text>
<text x="229.6" y="746.7" font-size="10.9" text-anchor="end" stroke="#000" stroke-width="0.42">143 /</text>
<text x="257.5" y="746.7" font-size="10.9" text-anchor="end" stroke="#000" stroke-width="0.42">642</text>
<text x="373.0" y="746.7" font-size="10.9" stroke="#000" stroke-width="0.42">0.73 (0.39–1.36)</text>
<text x="478.6" y="746.7" font-size="10.9" stroke="#000" stroke-width="0.42">.32</text>
<text x="26.0" y="763.8" font-size="10.9" fill="#d21a1a" stroke="#d21a1a" stroke-width="0.42">II–IV</text>
<text x="103.0" y="763.8" font-size="10.9" fill="#d21a1a" stroke="#d21a1a" stroke-width="0.42">Present</text>
<text x="198.6" y="763.8" font-size="10.9" text-anchor="end" stroke="#000" stroke-width="0.42" xml:space="preserve">133 /</text>
<text x="229.6" y="763.8" font-size="10.9" text-anchor="end" stroke="#000" stroke-width="0.42">590 /</text>
<text x="257.5" y="763.8" font-size="10.9" text-anchor="end" stroke="#000" stroke-width="0.42">2915</text>
<text x="373.0" y="763.8" font-size="10.9" stroke="#000" stroke-width="0.42">1.19 (0.77–1.84)</text>
<text x="478.6" y="763.8" font-size="10.9" stroke="#000" stroke-width="0.42">.44</text>
<line x1="323.9" y1="681.8" x2="323.9" y2="768.8" stroke="#000" stroke-width="1.8"/>
<line x1="278.2" y1="768.8" x2="379.0" y2="768.8" stroke="#000" stroke-width="1.8"/>
<line x1="288.88" y1="768.8" x2="288.88" y2="773.4" stroke="#000" stroke-width="1.5"/>
<text x="289.28" y="788.4" font-size="12.2" text-anchor="middle" stroke="#000" stroke-width="0.42">0.4</text>
<line x1="323.9" y1="768.8" x2="323.9" y2="773.4" stroke="#000" stroke-width="1.5"/>
<text x="324.29999999999995" y="788.4" font-size="12.2" text-anchor="middle" stroke="#000" stroke-width="0.42">1</text>
<line x1="341.86" y1="768.8" x2="341.86" y2="773.4" stroke="#000" stroke-width="1.5"/>
<text x="342.26" y="788.4" font-size="12.2" text-anchor="middle" stroke="#000" stroke-width="0.42">1.6</text>
<line x1="365.89" y1="768.8" x2="365.89" y2="773.4" stroke="#000" stroke-width="1.5"/>
<text x="366.28999999999996" y="788.4" font-size="12.2" text-anchor="middle" stroke="#000" stroke-width="0.42">3.0</text>
<rect x="321.75" y="688.15" width="4.3" height="4.3" fill="#000"/>
<line x1="304.38" y1="707.9" x2="339.14" y2="707.9" stroke="#000" stroke-width="1.8"/>
<rect x="319.89" y="705.75" width="4.3" height="4.3" fill="#000"/>
<line x1="295.04" y1="724.5" x2="340.15" y2="724.5" stroke="#000" stroke-width="1.8"/>
<rect x="316.04" y="722.35" width="4.3" height="4.3" fill="#000"/>
<line x1="287.91" y1="742.4" x2="335.65" y2="742.4" stroke="#000" stroke-width="1.8"/>
<rect x="310.22" y="740.25" width="4.3" height="4.3" fill="#000"/>
<line x1="313.91" y1="759.3" x2="347.2" y2="759.3" stroke="#000" stroke-width="1.8"/>
<rect x="328.90" y="757.15" width="4.3" height="4.3" fill="#000"/>
</svg>
</body></html>
